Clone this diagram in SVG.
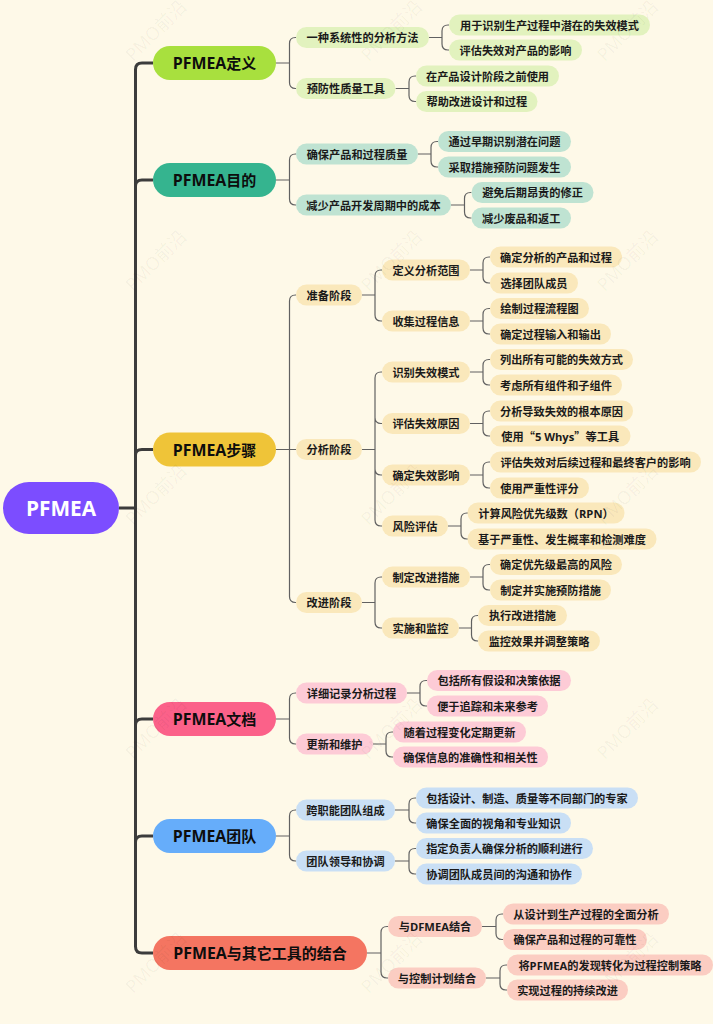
<svg xmlns="http://www.w3.org/2000/svg" width="713" height="1024" viewBox="0 0 713 1024">
<style>
text{font-family:"Open Sans","Noto Sans CJK SC",sans-serif;font-weight:700;text-anchor:middle;dominant-baseline:central;fill:#1a1a1a;font-size:11.2px}
.l1 text{font-size:15px;fill:#0d0d0d}
.l1 tspan{font-size:15.9px}
.q{font-family:"Noto Sans CJK SC",sans-serif}
.root text{font-size:20.8px;fill:#fff}
.cn{fill:none;stroke:#616161;stroke-width:1.2}
.tr{fill:none;stroke:#3c3c3c;stroke-width:3}
.wm{fill:#000;fill-opacity:.045;font-size:18px;font-weight:400}
.a rect{fill:#e2f2be}.b rect{fill:#bfe3d2}.c rect{fill:#fae8bb}.d rect{fill:#fdcbd6}.e rect{fill:#c9dff5}.f rect{fill:#fbcdc2}
</style>
<rect width="713" height="1024" fill="#fef9e8"/>
<g id="connectors">
<path class="tr" d="M119 508H135.5M153 63H142Q135.5 63 135.5 69.500V946.500Q135.5 953 142 953H153M135.500 186Q135.500 180 142 180H153M135.500 455Q135.500 449.500 142 449.500H153M135.500 725Q135.500 719 142 719H153M135.500 842Q135.500 836 142 836H153"/>
<path class="cn" d="M276 63H289.500M296 37.500H295.500Q289.500 37.500 289.500 43.500V82.500Q289.500 88.500 295.500 88.500H296"/>
<path class="cn" d="M429 37.500H442M449 25H448Q442 25 442 31V44Q442 50 448 50H449"/>
<path class="cn" d="M395.500 88.500H409M416 76H415Q409 76 409 82V95.500Q409 101.500 415 101.500H416"/>
<path class="cn" d="M276 180H289.500M296 154H295.500Q289.500 154 289.500 160V199Q289.500 205 295.500 205H296"/>
<path class="cn" d="M418 154H431M438 141.500H437Q431 141.500 431 147.500V161Q431 167 437 167H438"/>
<path class="cn" d="M451 205H464.500M471.500 192.500H470.500Q464.500 192.500 464.500 198.500V212Q464.500 218 470.500 218H471.500"/>
<path class="cn" d="M276 449.500H296M296 295H295.500Q289.500 295 289.500 301V596.500Q289.500 602.500 295.500 602.500H296"/>
<path class="cn" d="M362 295H375M382 270H381Q375 270 375 276V315Q375 321 381 321H382"/>
<path class="cn" d="M362 449.500H375M382 372H381Q375 372 375 378V520Q375 526 381 526H382M375 417.500Q375 423.500 381 423.500H382M375 469Q375 475 381 475H382"/>
<path class="cn" d="M362 602.500H375M382 577H381Q375 577 375 583V622Q375 628 381 628H382"/>
<path class="cn" d="M470 270H483M490 257H489Q483 257 483 263V277Q483 283 489 283H490"/>
<path class="cn" d="M470 321H483M490 308.500H489Q483 308.500 483 314.500V328Q483 334 489 334H490"/>
<path class="cn" d="M470 372H483M490 359.500H489Q483 359.500 483 365.500V379Q483 385 489 385H490"/>
<path class="cn" d="M470 423.500H483M490 411H489Q483 411 483 417V430Q483 436 489 436H490"/>
<path class="cn" d="M470 475H483M490 462H489Q483 462 483 468V482Q483 488 489 488H490"/>
<path class="cn" d="M448 526H461M468 513H467Q461 513 461 519V533Q461 539 467 539H468"/>
<path class="cn" d="M470 577H483M490 564.500H489Q483 564.500 483 570.500V584Q483 590 489 590H490"/>
<path class="cn" d="M459 628H471.500M478 615.500H477.500Q471.500 615.500 471.500 621.500V635Q471.500 641 477.500 641H478"/>
<path class="cn" d="M276 719H289.500M296 693H295.500Q289.500 693 289.500 699V738Q289.500 744 295.500 744H296"/>
<path class="cn" d="M407 693H420M427 680.500H426Q420 680.500 420 686.500V700Q420 706 426 706H427"/>
<path class="cn" d="M373 744H386M393 732H392Q386 732 386 738V751Q386 757 392 757H393"/>
<path class="cn" d="M276 836H289.500M296 810H295.500Q289.500 810 289.500 816V855Q289.500 861 295.500 861H296"/>
<path class="cn" d="M395 810H409M416 798H415Q409 798 409 804V817Q409 823 415 823H416"/>
<path class="cn" d="M395 861H409M416 848.500H415Q409 848.500 409 854.500V868Q409 874 415 874H416"/>
<path class="cn" d="M367 953H381M388 926.500H387Q381 926.500 381 932.500V972Q381 978 387 978H388"/>
<path class="cn" d="M482 926.500H496M503 914H502Q496 914 496 920V933.500Q496 939.500 502 939.500H503"/>
<path class="cn" d="M486 978H500M507 965H506Q500 965 500 971V984Q500 990 506 990H507"/>
</g>
<g id="root" class="root"><rect x="3" y="482" width="116" height="52" rx="26" fill="#7c4dff"/><text x="61" y="508">PFMEA</text></g>
<g id="n1" class="l1"><rect x="153" y="46" width="123" height="34" rx="17" fill="#a8e03e"/><text x="214.500" y="63"><tspan>PFMEA</tspan>定义</text></g>
<g id="n2" class="l1"><rect x="153" y="163" width="123" height="34" rx="17" fill="#35b48f"/><text x="214.500" y="180"><tspan>PFMEA</tspan>目的</text></g>
<g id="n3" class="l1"><rect x="153" y="432.500" width="123" height="34" rx="17" fill="#efc438"/><text x="214.500" y="449.500"><tspan>PFMEA</tspan>步骤</text></g>
<g id="n4" class="l1"><rect x="153" y="702" width="123" height="34" rx="17" fill="#fb6189"/><text x="214.500" y="719"><tspan>PFMEA</tspan>文档</text></g>
<g id="n5" class="l1"><rect x="153" y="819" width="123" height="34" rx="17" fill="#66adfa"/><text x="214.500" y="836"><tspan>PFMEA</tspan>团队</text></g>
<g id="n6" class="l1"><rect x="153" y="936" width="214" height="34" rx="17" fill="#f47561"/><text x="260" y="953"><tspan>PFMEA</tspan>与其它工具的结合</text></g>
<g id="a1" class="a"><rect x="296" y="27" width="133" height="21" rx="10.500"/><text x="362.500" y="37.500">一种系统性的分析方法</text></g>
<g id="a2" class="a"><rect x="296" y="78" width="99.500" height="21" rx="10.500"/><text x="345.800" y="88.500">预防性质量工具</text></g>
<g id="a3" class="a"><rect x="449" y="14.500" width="201" height="21" rx="10.500"/><text x="549.500" y="25">用于识别生产过程中潜在的失效模式</text></g>
<g id="a4" class="a"><rect x="449" y="39.500" width="133" height="21" rx="10.500"/><text x="515.500" y="50">评估失效对产品的影响</text></g>
<g id="a5" class="a"><rect x="416" y="65.500" width="143" height="21" rx="10.500"/><text x="487.500" y="76">在产品设计阶段之前使用</text></g>
<g id="a6" class="a"><rect x="416" y="91" width="121.500" height="21" rx="10.500"/><text x="476.800" y="101.500">帮助改进设计和过程</text></g>
<g id="b1" class="b"><rect x="296" y="143.500" width="122" height="21" rx="10.500"/><text x="357" y="154">确保产品和过程质量</text></g>
<g id="b2" class="b"><rect x="296" y="194.500" width="155" height="21" rx="10.500"/><text x="373.500" y="205">减少产品开发周期中的成本</text></g>
<g id="b3" class="b"><rect x="438" y="131" width="133" height="21" rx="10.500"/><text x="504.500" y="141.500">通过早期识别潜在问题</text></g>
<g id="b4" class="b"><rect x="438" y="156.500" width="133" height="21" rx="10.500"/><text x="504.500" y="167">采取措施预防问题发生</text></g>
<g id="b5" class="b"><rect x="471.500" y="182" width="122" height="21" rx="10.500"/><text x="532.500" y="192.500">避免后期昂贵的修正</text></g>
<g id="b6" class="b"><rect x="471.500" y="207.500" width="99.500" height="21" rx="10.500"/><text x="521.200" y="218">减少废品和返工</text></g>
<g id="c1" class="c"><rect x="296" y="284.500" width="66" height="21" rx="10.500"/><text x="329" y="295">准备阶段</text></g>
<g id="c2" class="c"><rect x="296" y="439" width="66" height="21" rx="10.500"/><text x="329" y="449.500">分析阶段</text></g>
<g id="c3" class="c"><rect x="296" y="592" width="66" height="21" rx="10.500"/><text x="329" y="602.500">改进阶段</text></g>
<g id="c4" class="c"><rect x="382" y="259.500" width="88" height="21" rx="10.500"/><text x="426" y="270">定义分析范围</text></g>
<g id="c5" class="c"><rect x="382" y="310.500" width="88" height="21" rx="10.500"/><text x="426" y="321">收集过程信息</text></g>
<g id="c6" class="c"><rect x="382" y="361.500" width="88" height="21" rx="10.500"/><text x="426" y="372">识别失效模式</text></g>
<g id="c7" class="c"><rect x="382" y="413" width="88" height="21" rx="10.500"/><text x="426" y="423.500">评估失效原因</text></g>
<g id="c8" class="c"><rect x="382" y="464.500" width="88" height="21" rx="10.500"/><text x="426" y="475">确定失效影响</text></g>
<g id="c9" class="c"><rect x="382" y="515.500" width="66" height="21" rx="10.500"/><text x="415" y="526">风险评估</text></g>
<g id="c10" class="c"><rect x="382" y="566.500" width="88" height="21" rx="10.500"/><text x="426" y="577">制定改进措施</text></g>
<g id="c11" class="c"><rect x="382" y="617.500" width="77" height="21" rx="10.500"/><text x="420.500" y="628">实施和监控</text></g>
<g id="c12" class="c"><rect x="490" y="246.500" width="132" height="21" rx="10.500"/><text x="556" y="257">确定分析的产品和过程</text></g>
<g id="c13" class="c"><rect x="490" y="272.500" width="88" height="21" rx="10.500"/><text x="534" y="283">选择团队成员</text></g>
<g id="c14" class="c"><rect x="490" y="298" width="99" height="21" rx="10.500"/><text x="539.500" y="308.500">绘制过程流程图</text></g>
<g id="c15" class="c"><rect x="490" y="323.500" width="121" height="21" rx="10.500"/><text x="550.500" y="334">确定过程输入和输出</text></g>
<g id="c16" class="c"><rect x="490" y="349" width="143" height="21" rx="10.500"/><text x="561.500" y="359.500">列出所有可能的失效方式</text></g>
<g id="c17" class="c"><rect x="490" y="374.500" width="132" height="21" rx="10.500"/><text x="556" y="385">考虑所有组件和子组件</text></g>
<g id="c18" class="c"><rect x="490" y="400.500" width="143" height="21" rx="10.500"/><text x="561.500" y="411">分析导致失效的根本原因</text></g>
<g id="c19" class="c"><rect x="490" y="425.500" width="140.500" height="21" rx="10.500"/><text x="560.200" y="436">使用<tspan class="q">“</tspan>5 Whys<tspan class="q">”</tspan>等工具</text></g>
<g id="c20" class="c"><rect x="490" y="451.500" width="211" height="21" rx="10.500"/><text x="595.500" y="462">评估失效对后续过程和最终客户的影响</text></g>
<g id="c21" class="c"><rect x="490" y="477.500" width="99" height="21" rx="10.500"/><text x="539.500" y="488">使用严重性评分</text></g>
<g id="c22" class="c"><rect x="467.500" y="502.500" width="157" height="21" rx="10.500"/><text x="546" y="513">计算风险优先级数（RPN）</text></g>
<g id="c23" class="c"><rect x="467.500" y="528.500" width="189" height="21" rx="10.500"/><text x="562" y="539">基于严重性、发生概率和检测难度</text></g>
<g id="c24" class="c"><rect x="490" y="554" width="132" height="21" rx="10.500"/><text x="556" y="564.500">确定优先级最高的风险</text></g>
<g id="c25" class="c"><rect x="490" y="579.500" width="121" height="21" rx="10.500"/><text x="550.500" y="590">制定并实施预防措施</text></g>
<g id="c26" class="c"><rect x="478" y="605" width="89" height="21" rx="10.500"/><text x="522.500" y="615.500">执行改进措施</text></g>
<g id="c27" class="c"><rect x="478" y="630.500" width="122" height="21" rx="10.500"/><text x="539" y="641">监控效果并调整策略</text></g>
<g id="d1" class="d"><rect x="296" y="682.500" width="111" height="21" rx="10.500"/><text x="351.500" y="693">详细记录分析过程</text></g>
<g id="d2" class="d"><rect x="296" y="733.500" width="77" height="21" rx="10.500"/><text x="334.500" y="744">更新和维护</text></g>
<g id="d3" class="d"><rect x="427" y="670" width="144" height="21" rx="10.500"/><text x="499" y="680.500">包括所有假设和决策依据</text></g>
<g id="d4" class="d"><rect x="427" y="695.500" width="121" height="21" rx="10.500"/><text x="487.500" y="706">便于追踪和未来参考</text></g>
<g id="d5" class="d"><rect x="393" y="721.500" width="133" height="21" rx="10.500"/><text x="459.500" y="732">随着过程变化定期更新</text></g>
<g id="d6" class="d"><rect x="393" y="746.500" width="155" height="21" rx="10.500"/><text x="470.500" y="757">确保信息的准确性和相关性</text></g>
<g id="e1" class="e"><rect x="296" y="799.500" width="99" height="21" rx="10.500"/><text x="345.500" y="810">跨职能团队组成</text></g>
<g id="e2" class="e"><rect x="296" y="850.500" width="99" height="21" rx="10.500"/><text x="345.500" y="861">团队领导和协调</text></g>
<g id="e3" class="e"><rect x="416" y="787.500" width="222" height="21" rx="10.500"/><text x="527" y="798">包括设计、制造、质量等不同部门的专家</text></g>
<g id="e4" class="e"><rect x="416" y="812.500" width="155" height="21" rx="10.500"/><text x="493.500" y="823">确保全面的视角和专业知识</text></g>
<g id="e5" class="e"><rect x="416" y="838" width="177" height="21" rx="10.500"/><text x="504.500" y="848.500">指定负责人确保分析的顺利进行</text></g>
<g id="e6" class="e"><rect x="416" y="863.500" width="166" height="21" rx="10.500"/><text x="499" y="874">协调团队成员间的沟通和协作</text></g>
<g id="f1" class="f"><rect x="388" y="916" width="94" height="21" rx="10.500"/><text x="435" y="926.500">与DFMEA结合</text></g>
<g id="f2" class="f"><rect x="388" y="967.500" width="98" height="21" rx="10.500"/><text x="437" y="978">与控制计划结合</text></g>
<g id="f3" class="f"><rect x="503" y="903.500" width="166" height="21" rx="10.500"/><text x="586" y="914">从设计到生产过程的全面分析</text></g>
<g id="f4" class="f"><rect x="503" y="929" width="144" height="21" rx="10.500"/><text x="575" y="939.500">确保产品和过程的可靠性</text></g>
<g id="f5" class="f"><rect x="507" y="954.500" width="206" height="21" rx="10.500"/><text x="610" y="965">将PFMEA的发现转化为过程控制策略</text></g>
<g id="f6" class="f"><rect x="507" y="979.500" width="121" height="21" rx="10.500"/><text x="567.500" y="990">实现过程的持续改进</text></g>
<g id="watermarks">
<text class="wm" transform="translate(155.500 30) rotate(-45)">PMO前沿</text>
<text class="wm" transform="translate(391 30) rotate(-45)">PMO前沿</text>
<text class="wm" transform="translate(627 30) rotate(-45)">PMO前沿</text>
<text class="wm" transform="translate(155.500 260) rotate(-45)">PMO前沿</text>
<text class="wm" transform="translate(391 260) rotate(-45)">PMO前沿</text>
<text class="wm" transform="translate(627 260) rotate(-45)">PMO前沿</text>
<text class="wm" transform="translate(155.500 494) rotate(-45)">PMO前沿</text>
<text class="wm" transform="translate(391 494) rotate(-45)">PMO前沿</text>
<text class="wm" transform="translate(627 494) rotate(-45)">PMO前沿</text>
<text class="wm" transform="translate(155.500 728) rotate(-45)">PMO前沿</text>
<text class="wm" transform="translate(391 728) rotate(-45)">PMO前沿</text>
<text class="wm" transform="translate(627 728) rotate(-45)">PMO前沿</text>
<text class="wm" transform="translate(155.500 962) rotate(-45)">PMO前沿</text>
<text class="wm" transform="translate(391 962) rotate(-45)">PMO前沿</text>
<text class="wm" transform="translate(627 962) rotate(-45)">PMO前沿</text>
</g>
</svg>
